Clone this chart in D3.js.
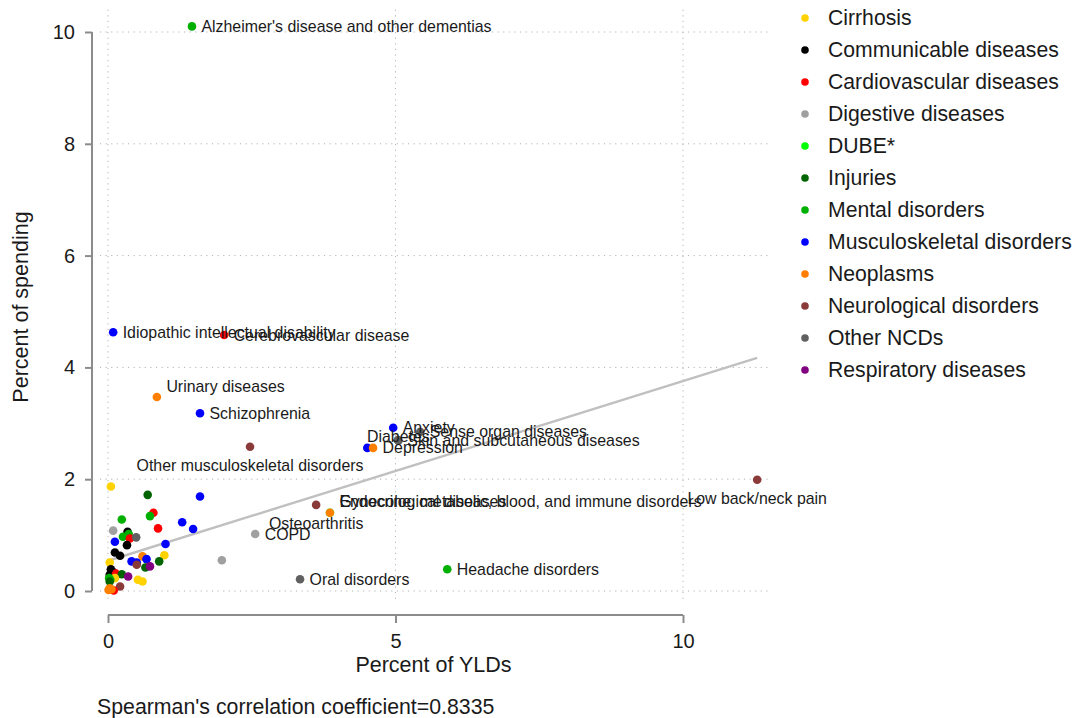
<!DOCTYPE html>
<html>
<head>
<meta charset="utf-8">
<script src="https://cdn.jsdelivr.net/npm/d3@7"></script>
<style>
  html, body { margin: 0; padding: 0; background: #fff; }
  svg { display: block; font-family: "Liberation Sans", Arial, sans-serif; }
</style>
</head>
<body>
<svg id="chart" width="1078" height="718"></svg>
<script>
// ---------------- DATA ----------------
const groups = ["Cirrhosis", "Communicable diseases", "Cardiovascular diseases", "Digestive diseases",
  "DUBE*", "Injuries", "Mental disorders", "Musculoskeletal disorders", "Neoplasms",
  "Neurological disorders", "Other NCDs", "Respiratory diseases"];
const groupColors = ["#ffd200", "#000000", "#ff0000", "#a0a0a0", "#00ff00", "#006400",
  "#00b000", "#0000ff", "#ff8000", "#8b3a3a", "#606060", "#800080"];

// [percent of YLDs, percent of spending, group]
const points = [
  [0.05, 1.87, "Cirrhosis"], [0.69, 1.72, "Injuries"], [1.60, 1.69, "Musculoskeletal disorders"],
  [0.79, 1.40, "Cardiovascular diseases"], [0.73, 1.34, "Mental disorders"], [0.24, 1.28, "Mental disorders"],
  [1.29, 1.23, "Musculoskeletal disorders"], [0.87, 1.12, "Cardiovascular diseases"],
  [1.48, 1.11, "Musculoskeletal disorders"], [0.09, 1.08, "Digestive diseases"],
  [0.34, 1.06, "Communicable diseases"], [0.36, 1.02, "Mental disorders"], [0.26, 0.97, "Mental disorders"],
  [0.38, 0.94, "Cardiovascular diseases"], [0.49, 0.96, "Other NCDs"], [0.12, 0.88, "Musculoskeletal disorders"],
  [0.33, 0.82, "Communicable diseases"], [1.00, 0.84, "Musculoskeletal disorders"],
  [0.12, 0.69, "Communicable diseases"], [0.21, 0.63, "Communicable diseases"], [0.03, 0.51, "Cirrhosis"],
  [0.98, 0.64, "Cirrhosis"], [0.60, 0.62, "Neoplasms"], [0.41, 0.53, "Musculoskeletal disorders"],
  [0.50, 0.51, "Musculoskeletal disorders"], [0.67, 0.57, "Musculoskeletal disorders"], [0.89, 0.53, "Injuries"],
  [0.50, 0.47, "Neurological disorders"], [0.65, 0.42, "Injuries"], [0.73, 0.44, "Respiratory diseases"],
  [0.05, 0.39, "Communicable diseases"], [0.09, 0.34, "Communicable diseases"], [0.03, 0.29, "Communicable diseases"],
  [0.14, 0.31, "Cardiovascular diseases"], [0.24, 0.30, "Injuries"], [0.12, 0.23, "Cirrhosis"],
  [0.04, 0.20, "Mental disorders"], [0.02, 0.23, "Mental disorders"], [0.03, 0.17, "Injuries"],
  [0.35, 0.26, "Respiratory diseases"], [0.52, 0.20, "Cirrhosis"], [0.60, 0.17, "Cirrhosis"],
  [0.21, 0.08, "Neurological disorders"], [0.10, 0.01, "Cardiovascular diseases"], [0.03, 0.05, "Neoplasms"],
  [0.01, 0.02, "Neoplasms"], [0.06, 0.03, "Neoplasms"], [1.98, 0.55, "Digestive diseases"],
  [4.51, 2.56, "Musculoskeletal disorders"]
];

// [percent of YLDs, percent of spending, group, label, label clock position]
const labelled = [
  [1.46, 10.1, "Mental disorders", "Alzheimer's disease and other dementias", 3],
  [0.09, 4.63, "Musculoskeletal disorders", "Idiopathic intellectual disability", 3],
  [2.02, 4.58, "Cardiovascular diseases", "Cerebrovascular disease", 3],
  [0.85, 3.47, "Neoplasms", "Urinary diseases", 2],
  [1.60, 3.18, "Musculoskeletal disorders", "Schizophrenia", 3],
  [2.47, 2.58, "Neurological disorders", "Other musculoskeletal disorders", 6],
  [4.96, 2.92, "Musculoskeletal disorders", "Anxiety", 3],
  [5.43, 2.85, "Other NCDs", "Sense organ diseases", 3],
  [5.05, 2.69, "Other NCDs", "Diabetes", 12],
  [5.04, 2.70, "Other NCDs", "Skin and subcutaneous diseases", 3],
  [4.61, 2.56, "Neoplasms", "Depression", 3],
  [3.86, 1.40, "DUBE*", "Endocrine, metabolic, blood, and immune disorders", 2],
  [3.86, 1.40, "Neoplasms", "Gynecological diseases", 2],
  [3.62, 1.54, "Neurological disorders", "Osteoarthritis", 6],
  [2.56, 1.02, "Digestive diseases", "COPD", 3],
  [3.34, 0.21, "Other NCDs", "Oral disorders", 3],
  [5.90, 0.39, "Mental disorders", "Headache disorders", 3],
  [11.29, 1.99, "Neurological disorders", "Low back/neck pain", 6]
];

// fitted line endpoints
const fitLine = [[0.03, 0.55], [11.29, 4.17]];

const xTicks = [0, 5, 10];
const yTicks = [0, 2, 4, 6, 8, 10];
const xTitle = "Percent of YLDs";
const yTitle = "Percent of spending";
const note = "Spearman's correlation coefficient=0.8335";

// ---------------- CHART ----------------
const svg = d3.select("#chart");
svg.append("rect").attr("width", 1078).attr("height", 718).attr("fill", "#fff");

const x = d3.scaleLinear().domain([0, 10]).range([108, 683]);
const y = d3.scaleLinear().domain([0, 10]).range([591, 32]);
const color = d3.scaleOrdinal().domain(groups).range(groupColors);

const plotLeft = x(-0.14), plotRight = x(11.5), plotTop = y(10.4), plotBottom = y(-0.16);

// grid
const grid = svg.append("g").attr("stroke", "#b4b4b4").attr("stroke-width", 1)
  .attr("stroke-dasharray", "1.2,4.4").attr("fill", "none");
grid.selectAll("line.h").data(yTicks).join("line").attr("class", "h")
  .attr("x1", plotLeft).attr("x2", plotRight).attr("y1", d => y(d)).attr("y2", d => y(d));
grid.selectAll("line.v").data(xTicks).join("line").attr("class", "v")
  .attr("y1", plotTop).attr("y2", plotBottom).attr("x1", d => x(d)).attr("x2", d => x(d));

// axes
const yAxis = d3.axisLeft(y).tickValues(yTicks).tickSize(7).tickPadding(10).tickFormat(d3.format("d"));
const gy = svg.append("g").attr("transform", "translate(92,0)").call(yAxis);
const xAxis = d3.axisBottom(x).tickValues(xTicks).tickSize(8).tickPadding(11).tickFormat(d3.format("d"));
const gx = svg.append("g").attr("transform", "translate(0,615)").call(xAxis);
[gx, gy].forEach(g => {
  g.select(".domain").attr("stroke", "#8c8c8c").attr("stroke-width", 2);
  g.selectAll(".tick line").attr("stroke", "#8c8c8c").attr("stroke-width", 2);
  g.selectAll(".tick text").attr("font-size", 20).attr("fill", "#1a1a1a")
    .attr("font-family", "'Liberation Sans', Arial, sans-serif");
});
gy.select(".domain").attr("d", `M0,${y(10)}V${y(0)}`);
gx.select(".domain").attr("d", `M${x(0)},0H${x(10)}`);

// titles
svg.append("text").attr("x", x(5) + 38).attr("y", 672).attr("text-anchor", "middle")
  .attr("font-size", 21.5).attr("fill", "#1a1a1a").text(xTitle);
svg.append("text").attr("transform", "translate(28,307) rotate(-90)").attr("text-anchor", "middle")
  .attr("font-size", 21.5).attr("fill", "#1a1a1a").text(yTitle);
svg.append("text").attr("x", 97).attr("y", 714).attr("font-size", 21.3).attr("fill", "#1a1a1a").text(note);

// fit line
svg.append("line")
  .attr("x1", x(fitLine[0][0])).attr("y1", y(fitLine[0][1]))
  .attr("x2", x(fitLine[1][0])).attr("y2", y(fitLine[1][1]))
  .attr("stroke", "#c0c0c0").attr("stroke-width", 2.4);

// points
const r = 4.3;
svg.append("g").selectAll("circle").data(points).join("circle")
  .attr("cx", d => x(d[0])).attr("cy", d => y(d[1])).attr("r", r).attr("fill", d => color(d[2]));
svg.append("g").selectAll("circle").data(labelled).join("circle")
  .attr("cx", d => x(d[0])).attr("cy", d => y(d[1])).attr("r", r).attr("fill", d => color(d[2]));

// labels
const lab = svg.append("g").attr("font-size", 15.9).attr("fill", "#1a1a1a");
labelled.forEach(d => {
  const cx = x(d[0]), cy = y(d[1]), pos = d[4];
  let tx = cx + 9.5, ty = cy, anchor = "start";
  if (pos === 2) { ty = cy - 11; }
  if (pos === 6) { tx = cx; ty = cy + 18.5; anchor = "middle"; }
  if (pos === 12) { tx = cx; ty = cy - 4; anchor = "middle"; }
  lab.append("text").attr("x", tx).attr("y", ty).attr("dy", "0.35em")
    .attr("text-anchor", anchor).text(d[3]);
});

// legend
const leg = svg.append("g").attr("transform", "translate(805,18)");
const rows = leg.selectAll("g").data(groups).join("g").attr("transform", (d, i) => `translate(0,${i * 32})`);
rows.append("circle").attr("r", 3.8).attr("fill", d => color(d));
rows.append("text").attr("x", 23).attr("dy", "0.35em").attr("font-size", 21.2).attr("fill", "#1a1a1a").text(d => d);
</script>
</body>
</html>
